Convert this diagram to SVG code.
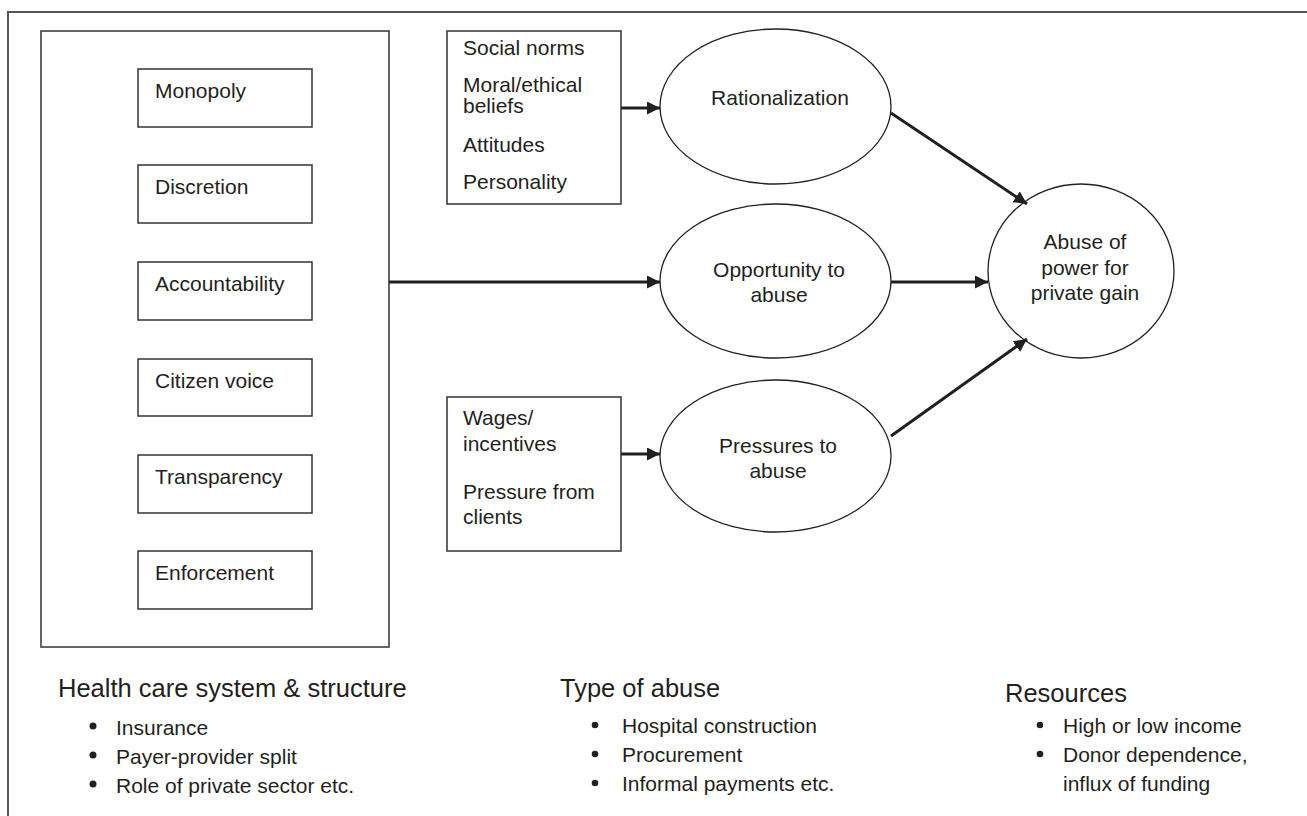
<svg xmlns="http://www.w3.org/2000/svg" width="1307" height="816" viewBox="0 0 1307 816">
<defs>
<style>
text{font-family:"Liberation Sans",Arial,Helvetica,sans-serif;fill:#231f20;font-size:21px}
.h{font-size:25.5px}
.m{text-anchor:middle}
.box{fill:#fff;stroke:#333;stroke-width:1.5}
.ell{fill:#fff;stroke:#231f20;stroke-width:1.3}
.con{stroke:#231f20;stroke-width:3;fill:none;marker-end:url(#ah)}
.dot{fill:#231f20}
</style>
<marker id="ah" markerUnits="userSpaceOnUse" markerWidth="14" markerHeight="14" refX="13" refY="6.5" orient="auto">
<path d="M0,0 L13,6.5 L0,13 z" fill="#231f20"/>
</marker>
</defs>
<rect x="0" y="0" width="1307" height="816" fill="#fff"/>
<rect x="8" y="12" width="1330" height="840" fill="none" stroke="#555" stroke-width="2"/>

<g id="structure">
<rect class="box" x="41" y="31" width="348" height="616"/>
</g>
<g id="monopoly"><rect class="box" x="138" y="69" width="174" height="58"/><text x="155" y="98">Monopoly</text></g>
<g id="discretion"><rect class="box" x="138" y="165" width="174" height="58"/><text x="155" y="194">Discretion</text></g>
<g id="accountability"><rect class="box" x="138" y="262" width="174" height="58"/><text x="155" y="291">Accountability</text></g>
<g id="citizen-voice"><rect class="box" x="138" y="359" width="174" height="57"/><text x="155" y="388">Citizen voice</text></g>
<g id="transparency"><rect class="box" x="138" y="455" width="174" height="58"/><text x="155" y="484">Transparency</text></g>
<g id="enforcement"><rect class="box" x="138" y="551" width="174" height="58"/><text x="155" y="580">Enforcement</text></g>

<g id="norms">
<rect class="box" x="447" y="31" width="174" height="173"/>
<text x="463" y="55">Social norms</text>
<text x="463" y="92">Moral/ethical</text>
<text x="463" y="113">beliefs</text>
<text x="463" y="152">Attitudes</text>
<text x="463" y="189">Personality</text>
</g>
<g id="pressures-box">
<rect class="box" x="447" y="397" width="174" height="154"/>
<text x="463" y="425">Wages/</text>
<text x="463" y="451">incentives</text>
<text x="463" y="499">Pressure from</text>
<text x="463" y="524">clients</text>
</g>

<g id="rationalization">
<ellipse class="ell" cx="775.5" cy="106.5" rx="115.5" ry="77.5"/>
<text class="m" x="780" y="105">Rationalization</text>
</g>
<g id="opportunity">
<ellipse class="ell" cx="775.5" cy="281" rx="115.5" ry="77"/>
<text class="m" x="779" y="277">Opportunity to</text>
<text class="m" x="779" y="302">abuse</text>
</g>
<g id="pressures">
<ellipse class="ell" cx="775.5" cy="456" rx="115.5" ry="76"/>
<text class="m" x="778" y="453">Pressures to</text>
<text class="m" x="778" y="478">abuse</text>
</g>
<g id="abuse">
<ellipse class="ell" cx="1081" cy="271" rx="93" ry="87"/>
<text class="m" x="1085" y="249">Abuse of</text>
<text class="m" x="1085" y="275">power for</text>
<text class="m" x="1085" y="300">private gain</text>
</g>

<g id="connectors">
<path class="con" d="M621,108 L660,108"/>
<path class="con" d="M389,282 L660,282"/>
<path class="con" d="M621,454 L660,454"/>
<path class="con" d="M891,113 L1027,204"/>
<path class="con" d="M891,282 L988,282"/>
<path class="con" d="M891,436 L1027,339"/>
</g>

<g id="health-care">
<text class="h" x="58" y="697">Health care system &amp; structure</text>
<circle class="dot" cx="93" cy="726" r="3.5"/><text x="116" y="735">Insurance</text>
<circle class="dot" cx="93" cy="755" r="3.5"/><text x="116" y="764">Payer-provider split</text>
<circle class="dot" cx="93" cy="784" r="3.5"/><text x="116" y="793">Role of private sector etc.</text>
</g>
<g id="type-of-abuse">
<text class="h" x="560" y="697">Type of abuse</text>
<circle class="dot" cx="595" cy="725" r="3.3"/><text x="622" y="733">Hospital construction</text>
<circle class="dot" cx="595" cy="754" r="3.3"/><text x="622" y="762">Procurement</text>
<circle class="dot" cx="595" cy="783" r="3.3"/><text x="622" y="791">Informal payments etc.</text>
</g>
<g id="resources">
<text class="h" x="1005" y="702">Resources</text>
<circle class="dot" cx="1040" cy="725" r="3.3"/><text x="1063" y="733">High or low income</text>
<circle class="dot" cx="1040" cy="754" r="3.3"/><text x="1063" y="762">Donor dependence,</text>
<text x="1063" y="791">influx of funding</text>
</g>
</svg>
